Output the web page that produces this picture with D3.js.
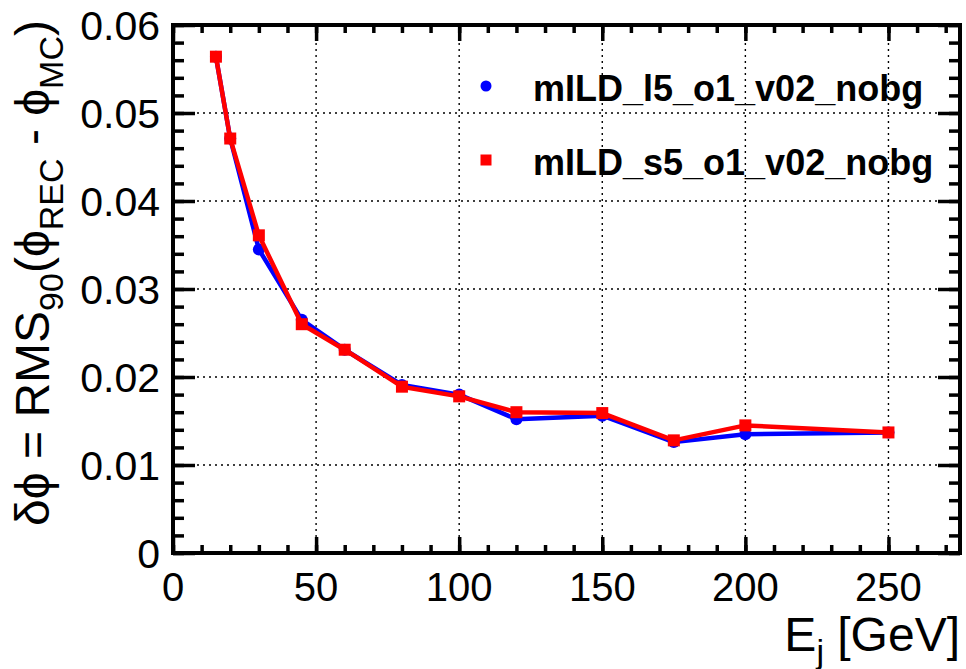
<!DOCTYPE html>
<html>
<head>
<meta charset="utf-8">
<script src="https://cdn.jsdelivr.net/npm/d3@7"></script>
<style>
  html, body { margin: 0; padding: 0; background: #fff; }
  text { font-family: "Liberation Sans", Arial, Helvetica, sans-serif; }
</style>
</head>
<body>
<svg id="chart" width="966" height="669"></svg>
<script>
// ---- data ----
const energies = [15, 20, 30, 45, 60, 80, 100, 120, 150, 175, 200, 250];
const seriesL5 = [0.0564, 0.0471, 0.0345, 0.0265, 0.0231, 0.0191, 0.0180, 0.0152, 0.0156, 0.0126, 0.0135, 0.0137];
const seriesS5 = [0.0564, 0.0471, 0.0361, 0.0260, 0.0231, 0.0189, 0.0178, 0.0160, 0.0159, 0.0128, 0.0145, 0.0137];
const seriesNames = ["mILD_l5_o1_v02_nobg", "mILD_s5_o1_v02_nobg"];
const xTickLabels = [0, 50, 100, 150, 200, 250];
const yTickLabels = [0, 0.01, 0.02, 0.03, 0.04, 0.05, 0.06];

// ---- layout ----
const L = 173, R = 960, T = 25, B = 553;
const svg = d3.select("#chart");
const x = d3.scaleLinear().domain([0, 275]).range([L, R]);
const y = d3.scaleLinear().domain([0, 0.06]).range([B, T]);

// grid
const grid = svg.append("g").attr("stroke", "#000").attr("stroke-width", 1.4).attr("stroke-dasharray", "2,4");
xTickLabels.filter(v => v > 0).forEach(v => {
  grid.append("line").attr("x1", x(v)).attr("x2", x(v)).attr("y1", T).attr("y2", B);
});
yTickLabels.filter(v => v > 0 && v < 0.06).forEach(v => {
  grid.append("line").attr("x1", L).attr("x2", R).attr("y1", y(v)).attr("y2", y(v));
});

// axes via d3
const tw = 3.5;
function styleAxis(g) {
  g.select(".domain").remove();
  g.selectAll(".tick line").attr("stroke", "#000").attr("stroke-width", tw);
  g.selectAll("text").remove();
}
const xMinor = d3.range(0, 276, 10);
const yMinor = d3.range(0, 0.0601, 0.002);
// bottom
svg.append("g").attr("transform", `translate(0,${B})`)
  .call(d3.axisTop(x).tickValues(xMinor).tickSize(8)).call(styleAxis);
svg.append("g").attr("transform", `translate(0,${B})`)
  .call(d3.axisTop(x).tickValues(xTickLabels).tickSize(16)).call(styleAxis);
// top
svg.append("g").attr("transform", `translate(0,${T})`)
  .call(d3.axisBottom(x).tickValues(xMinor).tickSize(8)).call(styleAxis);
svg.append("g").attr("transform", `translate(0,${T})`)
  .call(d3.axisBottom(x).tickValues(xTickLabels).tickSize(16)).call(styleAxis);
// left
svg.append("g").attr("transform", `translate(${L},0)`)
  .call(d3.axisRight(y).tickValues(yMinor).tickSize(11)).call(styleAxis);
svg.append("g").attr("transform", `translate(${L},0)`)
  .call(d3.axisRight(y).tickValues(yTickLabels).tickSize(22)).call(styleAxis);
// right
svg.append("g").attr("transform", `translate(${R},0)`)
  .call(d3.axisLeft(y).tickValues(yMinor).tickSize(11)).call(styleAxis);
svg.append("g").attr("transform", `translate(${R},0)`)
  .call(d3.axisLeft(y).tickValues(yTickLabels).tickSize(22)).call(styleAxis);

// frame
svg.append("rect").attr("x", L).attr("y", T).attr("width", R - L).attr("height", B - T)
  .attr("fill", "none").attr("stroke", "#000").attr("stroke-width", 4);

// tick labels
svg.append("g").selectAll("text").data(xTickLabels).join("text")
  .attr("x", d => x(d)).attr("y", 601).attr("text-anchor", "middle")
  .attr("font-size", 40).text(d => d);
svg.append("g").selectAll("text").data(yTickLabels).join("text")
  .attr("x", 160).attr("y", d => y(d) + 15).attr("text-anchor", "end")
  .attr("font-size", 41).text(d => d === 0 ? "0" : d3.format(".2f")(d));

// axis titles
const xt = svg.append("text").attr("x", R).attr("y", 651).attr("text-anchor", "end").attr("font-size", 48);
xt.append("tspan").text("E");
xt.append("tspan").attr("font-size", 34).attr("dy", 12).text("j");
xt.append("tspan").attr("dy", -12).text(" [GeV]");

const yt = svg.append("text").attr("transform", `translate(49,${T - 5}) rotate(-90)`)
  .attr("text-anchor", "end").attr("font-size", 48);
yt.append("tspan").text("δϕ = RMS");
yt.append("tspan").attr("font-size", 34).attr("dy", 14).text("90");
yt.append("tspan").attr("dy", -14).text("(ϕ");
yt.append("tspan").attr("font-size", 34).attr("dy", 14).text("REC");
yt.append("tspan").attr("dy", -14).text(" - ϕ");
yt.append("tspan").attr("font-size", 34).attr("dy", 14).text("MC");
yt.append("tspan").attr("dy", -14).text(")");

// data
const line = d3.line().x(d => x(d[0])).y(d => y(d[1]));
const dL5 = energies.map((e, i) => [e, seriesL5[i]]);
const dS5 = energies.map((e, i) => [e, seriesS5[i]]);

svg.append("path").datum(dL5).attr("d", line).attr("fill", "none")
  .attr("stroke", "#0000ff").attr("stroke-width", 4.5).attr("stroke-linejoin", "round");
svg.append("g").selectAll("circle").data(dL5).join("circle")
  .attr("cx", d => x(d[0])).attr("cy", d => y(d[1])).attr("r", 6).attr("fill", "#0000ff");

svg.append("path").datum(dS5).attr("d", line).attr("fill", "none")
  .attr("stroke", "#ff0000").attr("stroke-width", 4.5).attr("stroke-linejoin", "round");
svg.append("g").selectAll("rect").data(dS5).join("rect")
  .attr("x", d => x(d[0]) - 6).attr("y", d => y(d[1]) - 6).attr("width", 12).attr("height", 12)
  .attr("fill", "#ff0000");

// legend
const leg = svg.append("g");
leg.append("circle").attr("cx", 486).attr("cy", 86).attr("r", 5.5).attr("fill", "#0000ff");
leg.append("rect").attr("x", 480.5).attr("y", 154.5).attr("width", 11).attr("height", 11).attr("fill", "#ff0000");
leg.append("text").attr("x", 533).attr("y", 101).attr("font-size", 36).attr("font-weight", "bold").text(seriesNames[0]);
leg.append("text").attr("x", 533).attr("y", 175).attr("font-size", 36).attr("font-weight", "bold").text(seriesNames[1]);
</script>
</body>
</html>
